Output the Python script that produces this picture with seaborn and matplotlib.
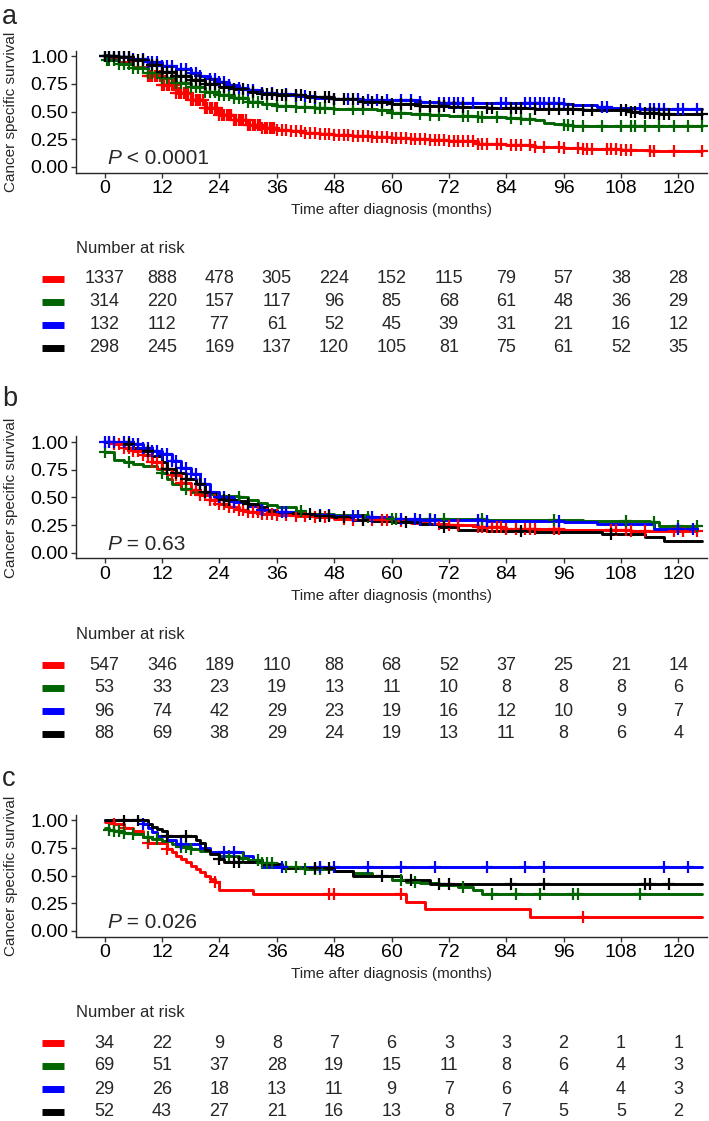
import numpy as np
import pandas as pd
import matplotlib
matplotlib.use("Agg")
import matplotlib.pyplot as plt
import matplotlib.transforms as mtransforms
import seaborn as sns

# ---------------- data ----------------
GROUPS = ["g1", "g2", "g3", "g4"]
COLORS = {"g1": "#FF0000", "g2": "#006400", "g3": "#0000FF", "g4": "#000000"}
RISK_TIMES = [0, 12, 24, 36, 48, 60, 72, 84, 96, 108, 120]
XTICKS = [0, 12, 24, 36, 48, 60, 72, 84, 96, 108, 120]
YTICKS = [0.0, 0.25, 0.5, 0.75, 1.0]
PANEL_LABELS = ["a", "b", "c"]
PVALUES = [" < 0.0001", " = 0.63", " = 0.026"]

# Panel a
A_RED_T = [0, 3, 6, 9, 12, 15, 18, 21, 24, 27, 30, 33, 36, 39, 42, 45, 48, 52, 56, 60, 64, 68, 72, 78, 84, 90, 96, 100, 104, 108, 114, 125]
A_RED_S = [0.98, 0.95, 0.90, 0.82, 0.74, 0.67, 0.60, 0.53, 0.47, 0.42, 0.38, 0.35, 0.33, 0.32, 0.31, 0.30, 0.29, 0.28, 0.27, 0.26, 0.25, 0.24, 0.23, 0.21, 0.20, 0.18, 0.17, 0.165, 0.16, 0.15, 0.145, 0.145]
A_GREEN_T = [0, 3, 6, 9, 12, 15, 18, 21, 24, 27, 30, 33, 36, 40, 44, 48, 54, 57, 60, 64, 68, 72, 78, 84, 87, 90, 92, 94, 96, 98, 125]
A_GREEN_S = [0.96, 0.93, 0.89, 0.85, 0.80, 0.76, 0.72, 0.68, 0.65, 0.62, 0.59, 0.57, 0.55, 0.54, 0.53, 0.525, 0.52, 0.51, 0.49, 0.48, 0.47, 0.46, 0.45, 0.44, 0.43, 0.42, 0.40, 0.39, 0.38, 0.37, 0.37]
A_BLUE_T = [0, 3, 6, 9, 12, 15, 18, 20, 22, 24, 26, 28, 30, 33, 36, 40, 44, 48, 54, 60, 66, 70, 96, 98, 103, 106, 112, 125]
A_BLUE_S = [1.0, 0.99, 0.97, 0.95, 0.91, 0.88, 0.85, 0.82, 0.79, 0.77, 0.74, 0.71, 0.69, 0.67, 0.66, 0.64, 0.62, 0.61, 0.60, 0.60, 0.59, 0.58, 0.57, 0.56, 0.54, 0.53, 0.52, 0.52]
A_BLACK_T = [0, 3, 6, 9, 12, 15, 18, 21, 24, 27, 30, 33, 36, 42, 48, 54, 60, 66, 72, 80, 90, 100, 110, 112, 116, 125]
A_BLACK_S = [1.0, 0.99, 0.96, 0.92, 0.86, 0.82, 0.78, 0.75, 0.72, 0.70, 0.68, 0.66, 0.65, 0.63, 0.61, 0.59, 0.57, 0.55, 0.54, 0.53, 0.52, 0.51, 0.50, 0.49, 0.48, 0.48]
A_RED_C = [9, 9.5, 10, 10.5, 11, 11.5, 12, 12.5, 13, 13.5, 14, 14.5, 15, 15.5, 16, 16.5, 17, 17.5, 18, 18.5, 19, 19.5, 20, 20.5, 21, 21.5, 22, 22.5, 23, 23.5, 24, 24.5, 25, 25.5, 26, 26.5, 27, 27.5, 28, 28.5, 29, 29.5, 30, 30.5, 31, 31.5, 32, 32.5, 33, 33.5, 34, 34.5, 35, 35.5, 36, 37, 38, 39, 40, 41, 42, 43, 44, 45, 46, 47, 48, 49, 50, 51, 52, 53, 54, 55, 56, 57, 58, 59, 60, 61, 62, 63, 64, 65, 66, 67, 68, 69, 70, 71, 72, 73, 74, 75, 76, 77, 78, 79, 80, 82, 83, 85, 86, 87, 89, 90, 92, 95, 96, 99, 100, 101, 102, 105, 106, 107, 108, 109, 110, 114, 115, 119, 125]
A_GREEN_C = [0.5, 1, 2, 3, 4, 5, 6, 7, 8, 9, 10, 11, 12, 13, 14, 15, 16, 17, 18, 19, 20, 21, 22, 23, 24, 25, 26, 27, 28, 29, 30, 31, 32, 34, 36, 38, 40, 42, 44, 45, 46, 48, 52, 54, 58, 60, 62, 66, 68, 70, 75, 76, 78, 79, 82, 85, 87, 89, 96, 97, 98, 100, 104, 108, 110, 111, 113, 116, 119, 122, 125]
A_BLUE_C = [0, 1, 2, 3, 4, 5, 6, 8, 9, 10, 11, 12, 13, 14, 16, 17, 18, 19, 20, 22, 23, 24, 25, 26, 28, 30, 31, 33, 35, 38, 40, 42, 44, 48, 51, 53, 55, 57, 59, 62, 64, 66, 70, 71, 72, 73, 74, 75, 77, 83, 84, 88, 89, 90, 91, 92, 93, 94, 95, 96, 104, 105, 112, 114, 115, 116, 117, 120, 121, 124]
A_BLACK_C = [0, 1, 2, 3, 4, 5, 6, 7, 8, 10, 11, 12, 13, 14, 15, 16, 17, 18, 19, 20, 21, 22, 23, 25, 27, 29, 31, 33, 34, 35, 36, 37, 38, 40, 41, 43, 44, 46, 47, 48, 50, 52, 54, 56, 58, 60, 62, 64, 66, 68, 70, 71, 73, 75, 80, 81, 85, 86, 87, 90, 93, 95, 97, 98, 100, 102, 108, 109, 110, 111, 113, 114, 115, 116, 117, 118, 125]
A_RISK_RED = [1337, 888, 478, 305, 224, 152, 115, 79, 57, 38, 28]
A_RISK_GREEN = [314, 220, 157, 117, 96, 85, 68, 61, 48, 36, 29]
A_RISK_BLUE = [132, 112, 77, 61, 52, 45, 39, 31, 21, 16, 12]
A_RISK_BLACK = [298, 245, 169, 137, 120, 105, 81, 75, 61, 52, 35]

# Panel b
B_RED_T = [0, 2, 4, 6, 8, 10, 12, 14, 16, 18, 20, 22, 24, 26, 28, 30, 33, 36, 40, 44, 48, 52, 56, 60, 64, 68, 72, 78, 84, 90, 96, 104, 110, 124]
B_RED_S = [1.0, 0.98, 0.95, 0.92, 0.88, 0.82, 0.76, 0.70, 0.63, 0.57, 0.52, 0.48, 0.44, 0.41, 0.39, 0.37, 0.35, 0.34, 0.33, 0.32, 0.31, 0.30, 0.295, 0.29, 0.27, 0.26, 0.25, 0.23, 0.22, 0.215, 0.21, 0.205, 0.20, 0.20]
B_GREEN_T = [0, 2, 4, 6, 8, 11, 12, 13, 14, 16, 18, 21, 24, 28, 30, 32, 34, 36, 40, 42, 48, 55, 60, 80, 100, 114, 116, 124]
B_GREEN_S = [0.91, 0.84, 0.82, 0.80, 0.78, 0.76, 0.72, 0.67, 0.62, 0.58, 0.55, 0.53, 0.51, 0.50, 0.48, 0.45, 0.43, 0.41, 0.38, 0.35, 0.34, 0.32, 0.31, 0.30, 0.29, 0.28, 0.24, 0.24]
B_BLUE_T = [0, 6, 8, 10, 12, 14, 16, 18, 20, 22, 24, 27, 30, 33, 36, 40, 44, 48, 54, 60, 66, 72, 80, 96, 103, 115, 124]
B_BLUE_S = [1.0, 0.98, 0.95, 0.92, 0.89, 0.83, 0.77, 0.71, 0.62, 0.55, 0.50, 0.46, 0.42, 0.39, 0.37, 0.35, 0.34, 0.33, 0.32, 0.31, 0.30, 0.30, 0.29, 0.28, 0.26, 0.215, 0.215]
B_BLACK_T = [0, 4, 6, 8, 10, 12, 13, 15, 17, 19, 21, 23, 25, 28, 30, 32, 34, 36, 40, 44, 48, 52, 56, 60, 66, 70, 74, 80, 90, 104, 113, 117, 125]
B_BLACK_S = [1.0, 0.98, 0.95, 0.92, 0.87, 0.82, 0.76, 0.72, 0.67, 0.62, 0.55, 0.50, 0.48, 0.47, 0.44, 0.41, 0.38, 0.36, 0.35, 0.33, 0.32, 0.30, 0.29, 0.28, 0.26, 0.23, 0.21, 0.20, 0.19, 0.175, 0.14, 0.11, 0.11]
B_RED_C = [1, 2, 3, 4, 5, 6, 7, 8, 9, 10, 11, 12, 13, 14, 15, 16, 17, 18, 19, 20, 21, 22, 23, 24, 25, 26, 27, 28, 29, 30, 31, 32, 33, 34, 35, 36, 38, 40, 42, 44, 46, 50, 52, 54, 56, 58, 59, 62, 70, 72, 74, 78, 79, 80, 81, 82, 83, 84, 86, 88, 89, 90, 94, 95, 106, 107, 109, 110, 113, 119, 121, 124]
B_GREEN_C = [0, 5, 12, 17, 28, 41, 55, 60, 61, 68, 71, 79, 94, 109, 115, 120, 124]
B_BLUE_C = [0, 1, 2, 4, 5, 6, 7, 8, 9, 10, 11, 12, 13, 14, 15, 16, 17, 18, 19, 20, 21, 22, 24, 25, 27, 33, 37, 38, 45, 47, 52, 53, 56, 62, 65, 66, 68, 69, 78, 80, 95, 120, 123]
B_BLACK_C = [5, 9, 13, 15, 17, 20, 21, 25, 26, 30, 43, 45, 47, 50, 54, 63, 71, 87, 106]
B_RISK_RED = [547, 346, 189, 110, 88, 68, 52, 37, 25, 21, 14]
B_RISK_GREEN = [53, 33, 23, 19, 13, 11, 10, 8, 8, 8, 6]
B_RISK_BLUE = [96, 74, 42, 29, 23, 19, 16, 12, 10, 9, 7]
B_RISK_BLACK = [88, 69, 38, 29, 24, 19, 13, 11, 8, 6, 4]

# Panel c
C_RED_T = [0, 2, 4, 6, 8, 9, 13, 14, 15, 16, 17, 18, 19, 20, 21, 22, 23, 24, 31, 63, 67, 89, 125]
C_RED_S = [0.98, 0.96, 0.93, 0.90, 0.85, 0.79, 0.74, 0.71, 0.68, 0.65, 0.62, 0.59, 0.56, 0.53, 0.50, 0.47, 0.44, 0.37, 0.33, 0.26, 0.20, 0.13, 0.13]
C_GREEN_T = [0, 1, 2, 4, 6, 8, 10, 12, 14, 16, 18, 20, 22, 24, 28, 30, 33, 36, 42, 48, 52, 56, 60, 63, 66, 70, 74, 77, 79, 125]
C_GREEN_S = [0.93, 0.91, 0.90, 0.88, 0.87, 0.85, 0.83, 0.81, 0.78, 0.76, 0.74, 0.72, 0.70, 0.68, 0.66, 0.64, 0.61, 0.58, 0.56, 0.54, 0.52, 0.50, 0.46, 0.44, 0.43, 0.41, 0.40, 0.37, 0.33, 0.33]
C_BLUE_T = [0, 8, 9, 10, 11, 13, 15, 20, 22, 29, 31, 33, 125]
C_BLUE_S = [1.0, 0.96, 0.93, 0.89, 0.86, 0.82, 0.78, 0.75, 0.71, 0.68, 0.64, 0.58, 0.58]
C_BLACK_T = [0, 9, 10, 11, 12, 13, 19, 20, 21, 22, 24, 25, 33, 37, 48, 52, 62, 68, 125]
C_BLACK_S = [1.0, 0.96, 0.94, 0.92, 0.90, 0.86, 0.82, 0.79, 0.73, 0.69, 0.65, 0.62, 0.60, 0.57, 0.54, 0.50, 0.46, 0.42, 0.42]
C_RED_C = [2, 4, 9, 13, 23, 47, 48, 62, 100]
C_GREEN_C = [1, 2, 3, 4, 6, 9, 11, 16, 17, 18, 26, 29, 32, 33, 34, 35, 38, 40, 42, 44, 45, 62, 65, 75, 81, 86, 91, 98, 99, 112]
C_BLUE_C = [8, 16, 25, 27, 37, 45, 48, 55, 62, 69, 80, 88, 92, 117, 122]
C_BLACK_C = [4, 7, 13, 17, 24, 27, 28, 44, 47, 58, 64, 70, 72, 85, 92, 113, 114, 118]
C_RISK_RED = [34, 22, 9, 8, 7, 6, 3, 3, 2, 1, 1]
C_RISK_GREEN = [69, 51, 37, 28, 19, 15, 11, 8, 6, 4, 3]
C_RISK_BLUE = [29, 26, 18, 13, 11, 9, 7, 6, 4, 4, 3]
C_RISK_BLACK = [52, 43, 27, 21, 16, 13, 8, 7, 5, 5, 2]

PANELS = [
    {"curves": [(A_RED_T, A_RED_S, A_RED_C), (A_GREEN_T, A_GREEN_S, A_GREEN_C),
                (A_BLUE_T, A_BLUE_S, A_BLUE_C), (A_BLACK_T, A_BLACK_S, A_BLACK_C)],
     "risk": [A_RISK_RED, A_RISK_GREEN, A_RISK_BLUE, A_RISK_BLACK]},
    {"curves": [(B_RED_T, B_RED_S, B_RED_C), (B_GREEN_T, B_GREEN_S, B_GREEN_C),
                (B_BLUE_T, B_BLUE_S, B_BLUE_C), (B_BLACK_T, B_BLACK_S, B_BLACK_C)],
     "risk": [B_RISK_RED, B_RISK_GREEN, B_RISK_BLUE, B_RISK_BLACK]},
    {"curves": [(C_RED_T, C_RED_S, C_RED_C), (C_GREEN_T, C_GREEN_S, C_GREEN_C),
                (C_BLUE_T, C_BLUE_S, C_BLUE_C), (C_BLACK_T, C_BLACK_S, C_BLACK_C)],
     "risk": [C_RISK_RED, C_RISK_GREEN, C_RISK_BLUE, C_RISK_BLACK]},
]

# ---------------- style ----------------
sns.set_style("ticks")
FONT = ["Liberation Sans", "Arial", "DejaVu Sans"]
plt.rcParams["font.family"] = FONT
plt.rcParams["axes.linewidth"] = 1.0
plt.rcParams["xtick.major.width"] = 1.0
plt.rcParams["ytick.major.width"] = 1.0
plt.rcParams["xtick.major.size"] = 3.5
plt.rcParams["ytick.major.size"] = 3.5
plt.rcParams["xtick.color"] = "#333333"
plt.rcParams["ytick.color"] = "#333333"

W, H = 709, 1121
fig = plt.figure(figsize=(W / 100, H / 100), dpi=100)

AX_LEFT, AX_RIGHT = 76, 707
AX_H = 122
AX_BOTTOMS = [172.5, 558.5, 936.5]
ROW0 = [279, 665, 1043]
ROW_SP = 23
LABEL_BASE = [24, 406, 786]


def fx(px):
    return px / W


def fy(py):
    return 1 - py / H


def step_at(t, s, q):
    t = np.asarray(t, float)
    s = np.asarray(s, float)
    idx = np.searchsorted(t, np.asarray(q, float), side="right") - 1
    idx = np.clip(idx, 0, len(s) - 1)
    return s[idx]


for pi, panel in enumerate(PANELS):
    ax = fig.add_axes([fx(AX_LEFT), fy(AX_BOTTOMS[pi]), fx(AX_RIGHT - AX_LEFT), AX_H / H])
    line_rows, cens_rows = [], []
    for g, (t, s, c) in zip(GROUPS, panel["curves"]):
        line_rows.append(pd.DataFrame({"time": t, "surv": s, "group": g}))
        cens_rows.append(pd.DataFrame({"time": c, "surv": step_at(t, s, c), "group": g}))
    ldf_all = pd.concat(line_rows)
    cdf_all = pd.concat(cens_rows)
    for g in GROUPS:
        ldf = ldf_all[ldf_all.group == g]
        cdf = cdf_all[cdf_all.group == g]
        sns.lineplot(data=ldf, x="time", y="surv", color=COLORS[g], drawstyle="steps-post",
                     estimator=None, sort=False, linewidth=2.1, ax=ax, legend=False)
        sns.scatterplot(data=cdf, x="time", y="surv", color=COLORS[g], marker="+", s=75,
                        linewidth=1.6, ax=ax, legend=False, zorder=3)

    ax.set_xlim(-6, 126)
    ax.set_ylim(-0.05, 1.05)
    ax.set_xticks(XTICKS)
    ax.set_xticklabels([str(v) for v in XTICKS])
    ax.set_yticks(YTICKS)
    ax.set_yticklabels([f"{v:.2f}" for v in YTICKS])
    ax.tick_params(axis="both", labelsize=14, pad=2, labelcolor="black")
    sns.despine(ax=ax)
    ax.set_xlabel("Time after diagnosis (months)", fontsize=11)
    ax.set_ylabel("Cancer specific survival", fontsize=11)
    ax.xaxis.set_label_coords(0.5, -0.25)
    ax.yaxis.set_label_coords(-0.092, 0.5)

    ptxt = ax.text(0.5, 0.03, "P", fontsize=15, style="italic", va="baseline", ha="left")
    ax.annotate(PVALUES[pi], xy=(1, 0), xycoords=ptxt, va="bottom", ha="left", fontsize=15)

    fig.text(fx(2), fy(LABEL_BASE[pi]), PANEL_LABELS[pi], fontsize=19.5, va="baseline", ha="left")

    # risk table
    top = ROW0[pi] - 1.8 * ROW_SP
    bottom = ROW0[pi] + 3.5 * ROW_SP
    rax = fig.add_axes([fx(AX_LEFT), fy(bottom), fx(AX_RIGHT - AX_LEFT), (bottom - top) / H])
    rax.set_xlim(-6, 126)
    rax.set_ylim(3.5, -1.8)
    rax.axis("off")
    trans = mtransforms.blended_transform_factory(rax.transAxes, rax.transData)
    rax.text(0, -1.32, "Number at risk", transform=trans, fontsize=12, ha="left", va="center")
    for ri, (g, vals) in enumerate(zip(GROUPS, panel["risk"])):
        rax.plot([-0.054, -0.019], [ri, ri], color=COLORS[g], lw=5, solid_capstyle="butt",
                 transform=trans, clip_on=False)
        for tt, v in zip(RISK_TIMES, vals):
            rax.text(tt, ri, str(v), fontsize=13, ha="center", va="center")

fig.savefig("out.png", dpi=100)
